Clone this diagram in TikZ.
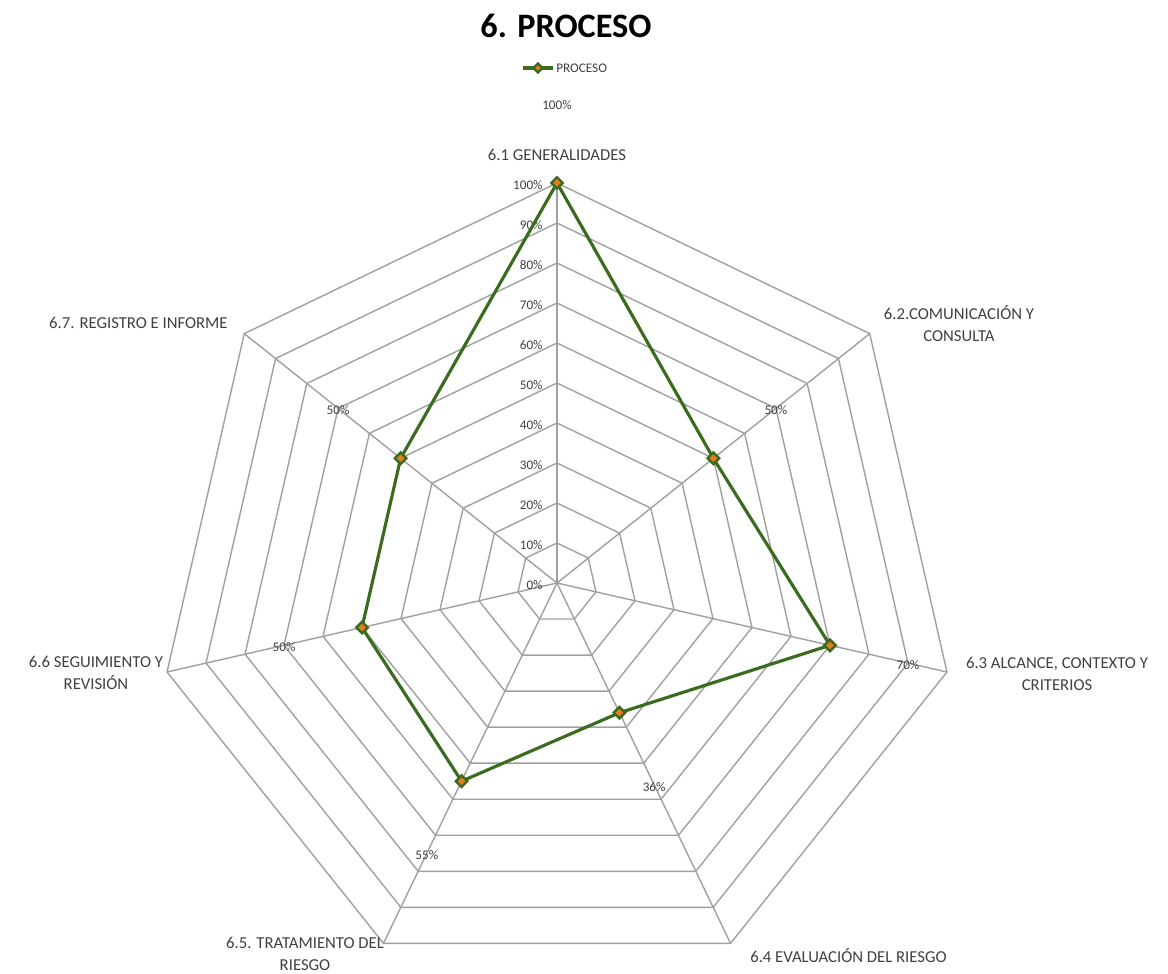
\documentclass[tikz,border=0pt]{standalone}
\usepackage{fontspec}
\setmainfont{Carlito}
\usetikzlibrary{shapes.geometric}
\definecolor{gridgray}{HTML}{A0A0A0}
\definecolor{sergreen}{HTML}{3B6B1E}
\definecolor{markorange}{HTML}{E87D1E}
\definecolor{txtgray}{HTML}{404040}
\begin{document}
\begin{tikzpicture}[x=0.02cm,y=0.02cm,
  gridline/.style={draw=gridgray,line width=0.8pt},
  series/.style={draw=sergreen,line width=1.8pt,line join=round},
  marker/.style={diamond,draw=sergreen,fill=markorange,line width=1.4pt,inner sep=0pt,minimum size=0.25cm},
  axislabel/.style={font=\fontsize{9.5}{12.5}\selectfont,text=txtgray,align=center,inner sep=0pt},
  ticklabel/.style={font=\fontsize{7.5}{9}\selectfont,text=txtgray,anchor=east,inner sep=0pt},
  datalabel/.style={font=\fontsize{7.5}{9}\selectfont,text=txtgray,inner sep=0pt},
  ]
\useasboundingbox (-557,-390) rectangle (611,583);
\coordinate (O) at (0,0);
% grid rings
\foreach \l in {1,...,10}{
  \pgfmathsetmacro{\r}{\l*40}
  \draw[gridline] (90:\r) \foreach \k in {1,...,6}{ -- ({90-\k*360/7}:\r)} -- cycle;
}
% spokes
\foreach \k in {0,...,6}{
  \coordinate (v\k) at ({90-\k*360/7}:400);
  \draw[gridline] (O) -- (v\k);
}
% tick labels
\foreach \l [evaluate=\l as \p using int(\l*10)] in {0,...,10}{
  \pgfmathsetmacro{\ty}{\l*40-2}
  \node[ticklabel] (t\l) at (-14,\ty) {\p\%};
}
% data
\foreach \k/\v in {0/100,1/50,2/70,3/36,4/55,5/50,6/50}{
  \pgfmathsetmacro{\rr}{\v*4}
  \coordinate (p\k) at ({90-\k*360/7}:\rr);
}
\draw[series] (p0) -- (p1) -- (p2) -- (p3) -- (p4) -- (p5) -- (p6) -- cycle;
\foreach \k/\v in {0/100,1/50,2/70,3/36,4/55,5/50,6/50}{
  \node[marker] (m\k) at (p\k) {};
  \pgfmathsetmacro{\lr}{(\v+20)*4}
  \node[datalabel,yshift=-0.04cm] (dl\k) at ({90-\k*360/7}:\lr) {\v\%};
}
% axis labels
\node[axislabel] (a0) at (0,428) {6.1 GENERALIDADES};
\node[axislabel] (a1) at (402,259) {6.2.COMUNICACIÓN Y\\CONSULTA};
\node[axislabel] (a2) at (500,-91) {6.3 ALCANCE, CONTEXTO Y\\CRITERIOS};
\node[axislabel,anchor=east] (a3) at (390,-373) {6.4 EVALUACIÓN DEL RIESGO};
\node[axislabel] (a4) at (-252,-371) {6.5. TRATAMIENTO DEL\\RIESGO};
\node[axislabel] (a5) at (-461,-90) {6.6 SEGUIMIENTO Y\\REVISIÓN};
\node[axislabel,anchor=east] (a6) at (-329,260) {6.7. REGISTRO E INFORME};
% legend
\coordinate (la) at (-34,515);
\coordinate (lb) at (-4,515);
\draw[series] (la) -- (lb);
\node[marker,minimum size=0.2cm] (lm) at (-19,515) {};
\node[datalabel,anchor=west] (lt) at (-1,515) {PROCESO};
% title
\node[font=\fontsize{19.5}{23}\selectfont\bfseries,inner sep=0pt] (title) at (9,557) {6. PROCESO};
\end{tikzpicture}
\end{document}
